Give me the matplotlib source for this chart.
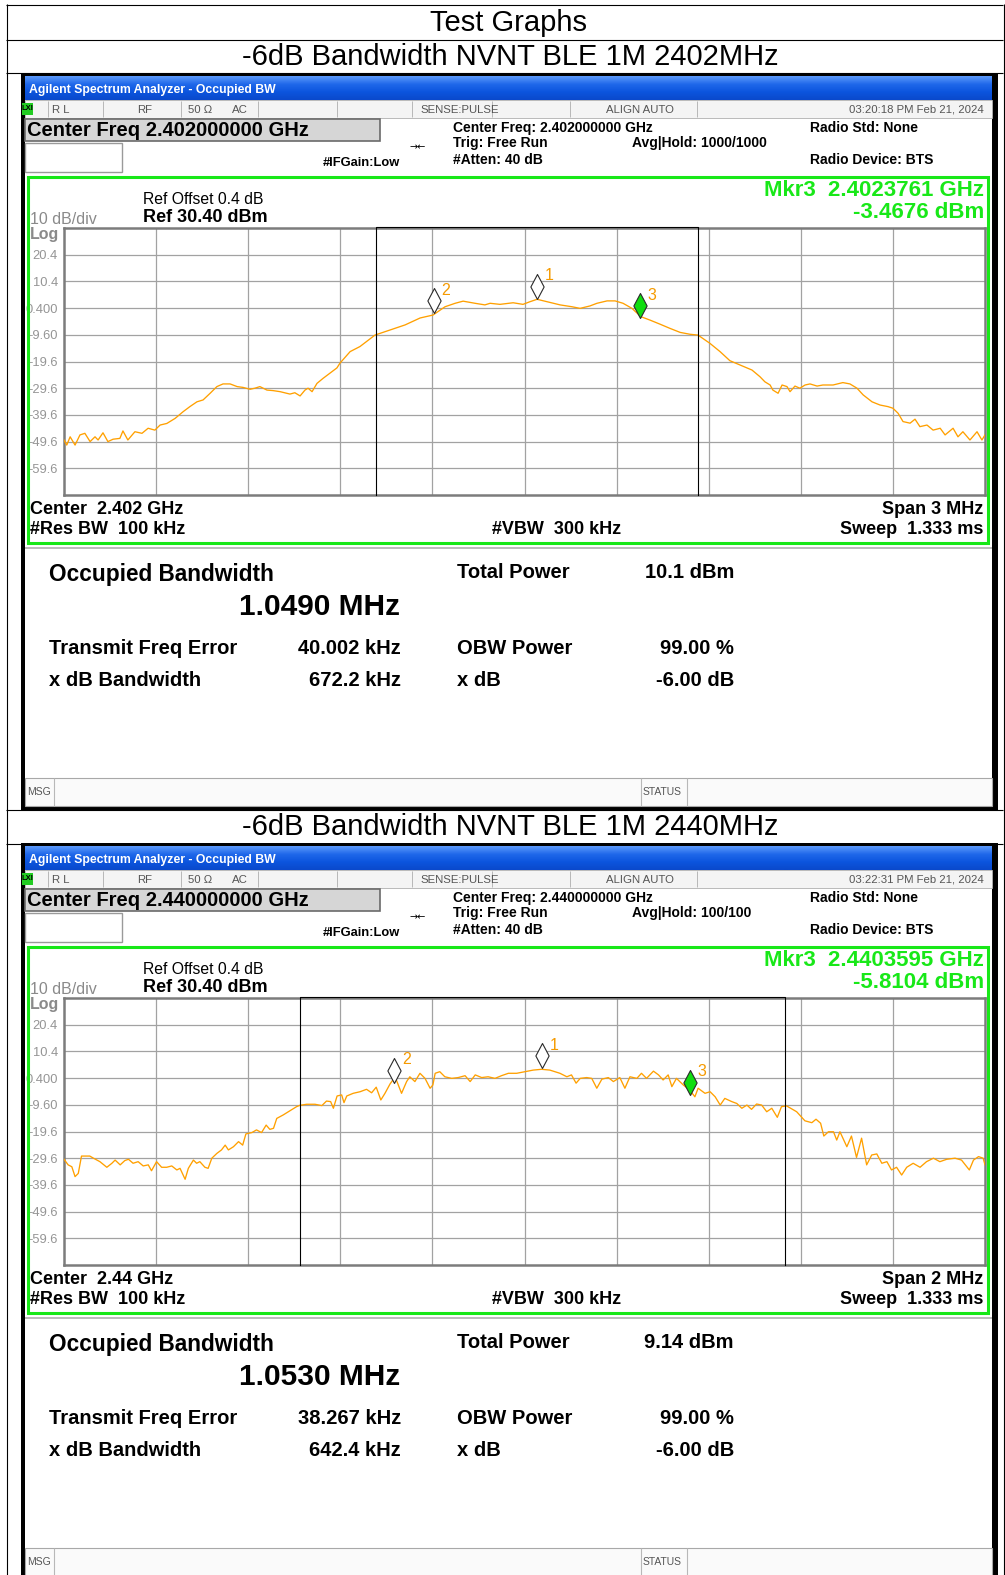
import numpy as np
import matplotlib
matplotlib.use("Agg")
import matplotlib.pyplot as plt
from matplotlib.patches import Rectangle
from matplotlib.path import Path
from matplotlib.colors import LinearSegmentedColormap

plt.rcParams['font.family'] = ['Liberation Sans', 'DejaVu Sans']

# ------------------------------------------------------------------ data
page_title = "Test Graphs"
section_titles = ["-6dB Bandwidth NVNT BLE 1M 2402MHz",
                  "-6dB Bandwidth NVNT BLE 1M 2440MHz"]
center_ghz = [2.402, 2.440]
span_mhz = [3.0, 2.0]
ref_level_dbm = 30.4
db_per_div = 10
ytick_labels = ["20.4", "10.4", "0.400", "-9.60", "-19.6", "-29.6", "-39.6", "-49.6", "-59.6"]
timestamps = ["03:20:18 PM Feb 21, 2024", "03:22:31 PM Feb 21, 2024"]
avg_hold = ["1000/1000", "100/100"]
center_freq_text = ["2.402000000 GHz", "2.440000000 GHz"]
center_text = ["2.402 GHz", "2.44 GHz"]
span_text = ["3 MHz", "2 MHz"]
mkr3_freq_ghz = [2.4023761, 2.4403595]
mkr3_level_dbm = [-3.4676, -5.8104]
occupied_bw_mhz = [1.0490, 1.0530]
total_power_text = ["10.1 dBm", "9.14 dBm"]
tfe_khz = [40.002, 38.267]
xdb_bw_khz = [672.2, 642.4]
mkr1_level_dbm = [3.8, 4.0]
mkr2_level_dbm = [-1.6, -1.4]

# trace 1 : frequency offset from centre (MHz), level (dBm)
trace1_f = [-1.500, -1.491, -1.480, -1.464, -1.448, -1.432, -1.415, -1.399, -1.389, -1.373,
            -1.357, -1.340, -1.318, -1.308, -1.292, -1.269, -1.246, -1.226, -1.204, -1.187,
            -1.165, -1.138, -1.112, -1.090, -1.067, -1.047, -1.024, -1.002, -0.982, -0.959,
            -0.936, -0.917, -0.894, -0.878, -0.862, -0.839, -0.819, -0.796, -0.764, -0.748,
            -0.731, -0.715, -0.705, -0.692, -0.676, -0.656, -0.634, -0.611, -0.601, -0.568,
            -0.536, -0.487, -0.438, -0.389, -0.340, -0.298, -0.259, -0.226, -0.200, -0.161,
            -0.129, -0.112, -0.080, -0.037, -0.005, 0.018, 0.041, 0.073, 0.116, 0.155,
            0.181, 0.213, 0.236, 0.269, 0.295, 0.321, 0.350, 0.379, 0.409, 0.441,
            0.474, 0.507, 0.539, 0.565, 0.604, 0.637, 0.669, 0.702, 0.741, 0.767,
            0.783, 0.800, 0.809, 0.826, 0.839, 0.855, 0.865, 0.881, 0.897, 0.914,
            0.930, 0.953, 0.972, 1.005, 1.037, 1.060, 1.083, 1.103, 1.132, 1.158,
            1.184, 1.200, 1.217, 1.233, 1.256, 1.272, 1.288, 1.311, 1.331, 1.354,
            1.370, 1.396, 1.412, 1.428, 1.451, 1.474, 1.490, 1.500]
trace1_db = [-49.0, -50.9, -47.8, -50.9, -47.1, -46.5, -49.6, -47.8, -49.0, -46.3,
             -49.6, -48.7, -48.4, -45.6, -49.0, -45.9, -46.5, -44.6, -45.3, -43.4,
             -42.8, -40.9, -38.4, -36.5, -34.7, -34.0, -31.5, -29.0, -28.0, -28.0,
             -29.0, -29.3, -30.0, -29.6, -29.0, -30.3, -30.5, -30.9, -31.8, -31.3,
             -32.5, -30.3, -29.6, -30.9, -27.8, -25.9, -24.0, -22.0, -20.2, -15.9,
             -14.0, -9.7, -7.8, -5.9, -3.3, -2.2, 0.9, 2.2, 3.0, 2.2,
             1.6, 2.2, 1.8, 2.4, 1.8, 2.8, 3.7, 2.8, 1.6, 0.9,
             0.3, 1.2, 2.2, 3.1, 3.1, 2.2, 0.3, -2.8, -4.1, -5.6,
             -7.2, -8.7, -9.4, -9.7, -12.8, -15.9, -19.3, -20.9, -22.8, -25.3,
             -27.2, -28.4, -30.3, -31.5, -28.4, -29.0, -30.9, -28.8, -29.6, -28.4,
             -28.0, -28.8, -28.4, -28.4, -27.5, -28.0, -29.6, -32.1, -34.7, -35.9,
             -36.5, -37.1, -39.0, -42.1, -42.7, -41.2, -44.0, -43.4, -45.3, -44.6,
             -47.1, -44.6, -47.8, -45.9, -49.0, -45.9, -49.0, -47.1]

# trace 2 : frequency offset from centre (MHz), level (dBm)
trace2_f = [-1.000, -0.991, -0.983, -0.976, -0.969, -0.962, -0.944, -0.936, -0.922, -0.907,
            -0.896, -0.889, -0.878, -0.868, -0.860, -0.850, -0.839, -0.828, -0.817, -0.810,
            -0.799, -0.788, -0.777, -0.766, -0.755, -0.748, -0.737, -0.730, -0.719, -0.712,
            -0.705, -0.694, -0.687, -0.679, -0.668, -0.658, -0.650, -0.643, -0.632, -0.621,
            -0.612, -0.605, -0.592, -0.582, -0.571, -0.561, -0.553, -0.545, -0.538, -0.524,
            -0.509, -0.495, -0.488, -0.473, -0.455, -0.440, -0.430, -0.421, -0.415, -0.407,
            -0.397, -0.392, -0.386, -0.372, -0.357, -0.343, -0.332, -0.322, -0.312, -0.303,
            -0.292, -0.281, -0.267, -0.256, -0.249, -0.238, -0.227, -0.216, -0.205, -0.199,
            -0.194, -0.184, -0.173, -0.158, -0.144, -0.129, -0.118, -0.107, -0.093, -0.079,
            -0.064, -0.050, -0.035, -0.017, 0.001, 0.019, 0.037, 0.055, 0.077, 0.092,
            0.102, 0.112, 0.121, 0.135, 0.146, 0.157, 0.168, 0.182, 0.193, 0.207,
            0.218, 0.229, 0.244, 0.254, 0.265, 0.280, 0.291, 0.301, 0.312, 0.320,
            0.330, 0.345, 0.359, 0.370, 0.377, 0.392, 0.403, 0.414, 0.425, 0.435,
            0.450, 0.461, 0.472, 0.483, 0.493, 0.504, 0.515, 0.526, 0.537, 0.549,
            0.558, 0.569, 0.591, 0.609, 0.624, 0.633, 0.643, 0.650, 0.660, 0.671,
            0.678, 0.685, 0.700, 0.710, 0.721, 0.732, 0.743, 0.754, 0.765, 0.776,
            0.787, 0.797, 0.808, 0.819, 0.830, 0.844, 0.859, 0.873, 0.888, 0.902,
            0.917, 0.935, 0.949, 0.966, 0.975, 0.986, 0.996, 1.000]
trace2_db = [-30.0, -32.1, -32.8, -36.5, -35.3, -28.8, -28.8, -29.6, -30.9, -33.0,
             -31.5, -30.3, -32.1, -30.5, -30.0, -31.5, -30.9, -32.5, -32.1, -34.3,
             -30.9, -33.0, -33.0, -32.5, -34.0, -33.4, -37.5, -33.4, -30.3, -31.5,
             -30.9, -33.0, -33.4, -29.6, -27.8, -26.5, -24.7, -26.5, -25.3, -23.4,
             -24.7, -20.5, -20.0, -19.0, -20.0, -17.2, -18.8, -18.4, -14.7, -13.4,
             -11.8, -10.3, -9.8, -9.4, -9.4, -9.9, -8.2, -8.4, -10.9, -6.3,
             -5.9, -8.8, -6.3, -5.3, -4.7, -3.8, -5.1, -3.0, -7.8, -5.3,
             -1.8, 0.9, -5.3, -0.9, 0.9, -0.9, 2.2, 0.3, -3.4, -2.2,
             2.2, 2.8, 0.9, 0.3, 0.6, 1.3, -0.9, 1.6, 0.6, 0.9,
             0.3, 1.3, 2.2, 2.2, 2.8, 3.4, 3.7, 3.4, 2.2, 0.9,
             1.6, -1.5, 0.3, 0.6, 0.3, -3.4, 0.0, 0.6, -0.9, 0.6,
             -3.4, 0.9, 0.3, 2.2, 0.3, 3.0, 1.6, -0.3, 1.6, -2.8,
             0.3, -2.2, -4.1, -6.6, -3.4, -5.3, -4.7, -6.6, -9.7, -7.2,
             -8.4, -9.1, -10.9, -9.7, -11.3, -9.3, -9.7, -12.2, -10.9, -14.3,
             -10.3, -10.0, -12.2, -15.6, -16.3, -15.0, -16.5, -21.3, -19.7, -19.7,
             -22.8, -19.7, -25.3, -21.3, -29.3, -22.1, -32.1, -28.4, -28.0, -31.5,
             -30.9, -34.0, -33.0, -35.9, -33.0, -31.5, -33.0, -30.9, -29.6, -30.9,
             -30.0, -29.6, -30.3, -34.0, -30.3, -29.0, -29.6, -32.1]

traces_f = [trace1_f, trace2_f]
traces_db = [trace1_db, trace2_db]

# ------------------------------------------------------------------ figure
W, H = 1005, 1575
fig = plt.figure(figsize=(W / 100, H / 100), dpi=100)
ax0 = fig.add_axes([0, 0, 1, 1])
axtop = fig.add_axes([0, 0, 1, 1], zorder=10)
for a in (ax0, axtop):
    a.set_xlim(0, W)
    a.set_ylim(H, 0)
    a.axis('off')

NARROW = ['Liberation Sans Narrow', 'Liberation Sans', 'DejaVu Sans']
GREEN = '#18e818'
TRACE = '#FFA000'
LABEL_OR = '#F59A00'


def rect(ax, x0, y0, x1, y1, **kw):
    kw.setdefault('lw', 0)
    ax.add_patch(Rectangle((x0, y0), x1 - x0, y1 - y0, **kw))


def line(ax, xs, ys, **kw):
    ax.plot(xs, ys, solid_capstyle='butt', **kw)


def txt(x, y, s, **kw):
    kw.setdefault('va', 'center')
    kw.setdefault('zorder', 3)
    ax0.text(x, y + 3, s, **kw)


# table
for yy in [4.5, 39.5, 72.5, 809.5, 843.5]:
    line(ax0, [6, 1003], [yy, yy], color='k', lw=0.8)
line(ax0, [6.5, 6.5], [4, H], color='k', lw=0.8)
line(ax0, [1003.5, 1003.5], [4, H], color='k', lw=0.8)
txt(509, 20, page_title, ha='center', fontsize=21)
txt(510, 54, section_titles[0], ha='center', fontsize=21)
txt(510, 824, section_titles[1], ha='center', fontsize=21)

grad_cmap = LinearSegmentedColormap.from_list(
    'bar', ['#5a98fa', '#1f68ea', '#0c55de', '#0a49cc'])
grad = np.linspace(0, 1, 24).reshape(-1, 1)

diamond = Path([(0, 0), (0.53, 1), (0, 2), (-0.53, 1), (0, 0)],
               [Path.MOVETO, Path.LINETO, Path.LINETO, Path.LINETO, Path.CLOSEPOLY])

for k, dy in enumerate([0, 770]):
    # ---- screenshot frame
    rect(ax0, 21, 73 + dy, 998, 810 + dy, fc='black', zorder=1)
    rect(ax0, 25, 76 + dy, 992, 806 + dy, fc='white', zorder=1.1)
    ax0.imshow(grad, cmap=grad_cmap, extent=(25, 992, 100 + dy, 76 + dy),
               aspect='auto', zorder=1.2, interpolation='bilinear')
    txt(29, 87 + dy, "Agilent Spectrum Analyzer - Occupied BW", color='white',
        fontsize=8.8, fontweight='bold', family=NARROW)

    # ---- status row
    rect(ax0, 25, 100 + dy, 992, 118 + dy, fc='#f4f4f4', ec='#b0b0b0', lw=0.6, zorder=1.3)
    for sx in [48, 103, 181, 258, 337, 412, 492, 570, 697]:
        line(ax0, [sx, sx], [101 + dy, 117 + dy], color='#b8b8b8', lw=0.7, zorder=1.4)
    rect(ax0, 22, 103 + dy, 33, 115 + dy, fc='#22cc22', zorder=2)
    txt(27.5, 106 + dy, "LXI", fontsize=5.5, fontweight='bold', ha='center', family=NARROW)
    st = dict(fontsize=8.2, color='#555555', family=NARROW)
    txt(52, 107 + dy, "R L", **st)
    txt(137, 107 + dy, "RF", **st)
    txt(188, 107 + dy, "50 Ω", **st)
    txt(232, 107 + dy, "AC", **st)
    txt(420, 107 + dy, "SENSE:PULSE", **st)
    txt(606, 107 + dy, "ALIGN AUTO", **st)
    txt(984, 107 + dy, timestamps[k], ha='right', **st)

    # ---- centre freq box
    rect(ax0, 25, 119 + dy, 380, 141 + dy, fc='#d6d6d6', ec='#6a6a6a', lw=1.2, zorder=1.5)
    txt(27, 127 + dy, "Center Freq " + center_freq_text[k], fontsize=14.5, fontweight='bold')
    rect(ax0, 25, 143 + dy, 122, 172 + dy, fc='white', ec='#9a9a9a', lw=1.0, zorder=1.5)
    hb = dict(fontsize=10, fontweight='bold', family=NARROW)
    txt(453, 125 + dy, "Center Freq: " + center_freq_text[k], **hb)
    txt(453, 140 + dy, "Trig: Free Run", **hb)
    txt(453, 157 + dy, "#Atten: 40 dB", **hb)
    txt(632, 140 + dy, "Avg|Hold: " + avg_hold[k], **hb)
    txt(810, 125 + dy, "Radio Std: None", **hb)
    txt(810, 157 + dy, "Radio Device: BTS", **hb)
    txt(323, 160 + dy, "#IFGain:Low", fontsize=9.3, fontweight='bold', family=NARROW)
    txt(418, 144 + dy, "→←", fontsize=7, ha='center', family=['DejaVu Sans'])

    # ---- green measurement box (border drawn on top overlay)
    rect(axtop, 27.5, 177 + dy, 987.5, 543 + dy, fc='none', ec=GREEN, lw=2.2)

    txt(143, 197 + dy, "Ref Offset 0.4 dB", fontsize=11.3)
    txt(143, 214 + dy, "Ref %.2f dBm" % ref_level_dbm, fontsize=13, fontweight='bold')
    txt(30, 216 + dy, "%d dB/div" % db_per_div, fontsize=11.5, color='#8a8a8a')
    txt(30, 231 + dy, "Log", fontsize=11.5, color='#8a8a8a', fontweight='bold')
    txt(984, 187 + dy, "Mkr3  %.7f GHz" % mkr3_freq_ghz[k], fontsize=16,
        fontweight='bold', color=GREEN, ha='right')
    txt(984, 209 + dy, "%.4f dBm" % mkr3_level_dbm[k], fontsize=16,
        fontweight='bold', color=GREEN, ha='right')

    bb = dict(fontsize=13, fontweight='bold')
    txt(30, 506 + dy, "Center  " + center_text[k], **bb)
    txt(983, 506 + dy, "Span " + span_text[k], ha='right', **bb)
    txt(30, 526 + dy, "#Res BW  100 kHz", **bb)
    txt(557, 526 + dy, "#VBW  300 kHz", ha='center', **bb)
    txt(983, 526 + dy, "Sweep  1.333 ms", ha='right', **bb)

    # ---- summary panel
    line(ax0, [25, 992], [548 + dy, 548 + dy], color='#b0b0b0', lw=1.2, zorder=2)
    sb = dict(fontsize=14.5, fontweight='bold')
    txt(49, 572 + dy, "Occupied Bandwidth", fontsize=16.3, fontweight='bold')
    txt(400, 604 + dy, "%.4f MHz" % occupied_bw_mhz[k], fontsize=21.5,
        fontweight='bold', ha='right')
    txt(457, 569 + dy, "Total Power", **sb)
    txt(734, 569 + dy, total_power_text[k], ha='right', **sb)
    txt(49, 645 + dy, "Transmit Freq Error", **sb)
    txt(401, 645 + dy, "%.3f kHz" % tfe_khz[k], ha='right', **sb)
    txt(457, 645 + dy, "OBW Power", **sb)
    txt(734, 645 + dy, "99.00 %", ha='right', **sb)
    txt(49, 678 + dy, "x dB Bandwidth", **sb)
    txt(401, 678 + dy, "%.1f kHz" % xdb_bw_khz[k], ha='right', **sb)
    txt(457, 678 + dy, "x dB", **sb)
    txt(734, 678 + dy, "-6.00 dB", ha='right', **sb)

    # ---- message bar
    rect(ax0, 25, 778 + dy, 992, 806 + dy, fc='#fafafa', ec='#a8a8a8', lw=0.8, zorder=2)
    for sx in [54, 641, 687]:
        line(ax0, [sx, sx], [778 + dy, 806 + dy], color='#b8b8b8', lw=0.8, zorder=2.1)
    txt(27, 789 + dy, "MSG", fontsize=7.5, color='#555555', family=NARROW)
    txt(643, 789 + dy, "STATUS", fontsize=7.5, color='#555555', family=NARROW)

    # ---- spectrum plot
    span = span_mhz[k]
    ax = fig.add_axes([64 / W, 1 - (495 + dy) / H, 921 / W, 267 / H], zorder=5)
    bottom = ref_level_dbm - 10 * db_per_div
    ax.set_xlim(-span / 2, span / 2)
    ax.set_ylim(bottom, ref_level_dbm)
    ax.set_xticks(np.linspace(-span / 2, span / 2, 11)[1:-1])
    ax.set_yticks(np.linspace(ref_level_dbm, bottom, 11)[1:-1])
    ax.set_yticklabels(ytick_labels)
    ax.tick_params(length=0, labelbottom=False, pad=4.3, labelsize=9.3,
                   labelcolor='#959595')
    ax.grid(True, color='#a2a2a2', lw=0.9)
    ax.set_axisbelow(True)
    for sp in ax.spines.values():
        sp.set_color('#7c7c7c')
        sp.set_linewidth(1.8)

    ax.plot(traces_f[k], traces_db[k], color=TRACE, lw=0.95, zorder=3)

    # occupied bandwidth edges
    c = tfe_khz[k] / 1000.0
    half = occupied_bw_mhz[k] / 2
    ax.plot([c - half, c - half, c + half, c + half],
            [bottom, ref_level_dbm + 0.4, ref_level_dbm + 0.4, bottom],
            color='black', lw=0.8, clip_on=False, zorder=4)

    # markers
    m3 = (mkr3_freq_ghz[k] - center_ghz[k]) * 1000.0
    m2 = m3 - xdb_bw_khz[k] / 1000.0
    m1 = c
    mk = [(m1, mkr1_level_dbm[k], 'white', '1'),
          (m2, mkr2_level_dbm[k], 'white', '2'),
          (m3, mkr3_level_dbm[k], '#10dd10', '3')]
    for mf, md, fc, lab in mk:
        ax.plot([mf], [md], marker=diamond, ms=36, mfc=fc, mec='#2a2a2a', mew=0.8,
                ls='none', zorder=6, clip_on=False)
        ax.annotate(lab, (mf, md), xytext=(8.8, 16.8), textcoords='offset points',
                    ha='center', va='center', color=LABEL_OR, fontsize=11.5, zorder=7)

ax0.set_xlim(0, W)
ax0.set_ylim(H, 0)
ax0.set_aspect('auto')

fig.savefig("out.png", dpi=100)
